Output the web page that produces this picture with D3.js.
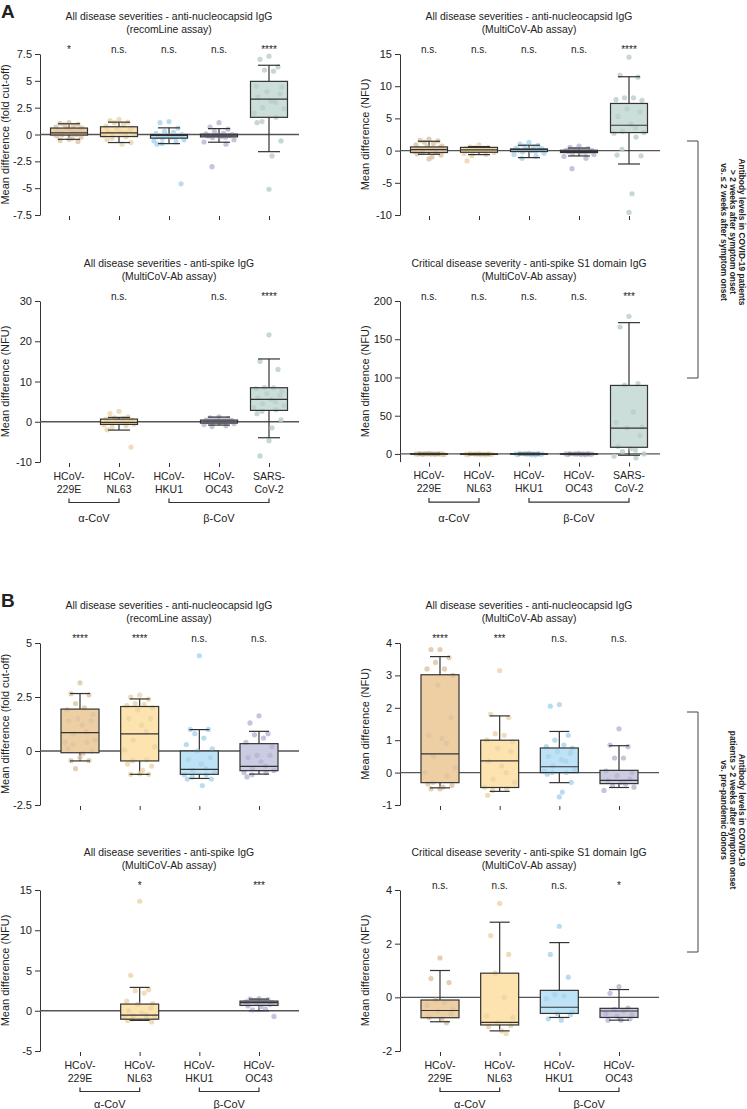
<!DOCTYPE html>
<html><head><meta charset="utf-8">
<script src="https://cdn.jsdelivr.net/npm/d3@7"></script>
<style>
body{margin:0;background:#fff;}
svg text{font-family:"Liberation Sans",Arial,Helvetica,sans-serif;fill:#222;}
</style>
</head><body>
<svg id="chart" width="747" height="1109"></svg>
<script>
// ---------- categories ----------
const cats5 = ["229E","NL63","HKU1","OC43","SARS2"];
const cats4 = ["229E","NL63","HKU1","OC43"];
const catLine1 = {"229E":"HCoV-","NL63":"HCoV-","HKU1":"HCoV-","OC43":"HCoV-","SARS2":"SARS-"};
const catLine2 = {"229E":"229E","NL63":"NL63","HKU1":"HKU1","OC43":"OC43","SARS2":"CoV-2"};
const groupLabels = ["α-CoV","β-CoV"];

// ---------- titles ----------
const titleN_recom = ["All disease severities - anti-nucleocapsid IgG","(recomLine assay)"];
const titleN_multi = ["All disease severities - anti-nucleocapsid IgG","(MultiCoV-Ab assay)"];
const titleS_multi = ["All disease severities - anti-spike IgG","(MultiCoV-Ab assay)"];
const titleS1_crit = ["Critical disease severity - anti-spike S1 domain IgG","(MultiCoV-Ab assay)"];
const ylabFold = "Mean difference (fold cut-off)";
const ylabNFU = "Mean difference (NFU)";
const sideTextA = ["Antibody levels in COVID-19 patients","> 2 weeks after symptom onset","vs. ≤ 2 weeks after symptom onset"];
const sideTextB = ["Antibody levels in COVID-19","patients > 2 weeks after symptom onset","vs. pre-pandemic donors"];

// ---------- tick values ----------
const a1Ticks = [-7.5,-5,-2.5,0,2.5,5,7.5];
const a2Ticks = [-10,-5,0,5,10,15];
const a3Ticks = [-10,0,10,20,30];
const a4Ticks = [0,50,100,150,200];
const b1Ticks = [-2.5,0,2.5,5];
const b2Ticks = [-1,0,1,2,3,4];
const b3Ticks = [-5,0,5,10,15];
const b4Ticks = [-2,0,2,4];

// ---------- significance ----------
const a1Sig = ["*","n.s.","n.s.","n.s.","****"];
const a2Sig = ["n.s.","n.s.","n.s.","n.s.","****"];
const a3Sig = ["","n.s.","","n.s.","****"];
const a4Sig = ["n.s.","n.s.","n.s.","n.s.","***"];
const b1Sig = ["****","****","n.s.","n.s."];
const b2Sig = ["****","***","n.s.","n.s."];
const b3Sig = ["","*","","***"];
const b4Sig = ["n.s.","n.s.","n.s.","*"];

// ---------- box stats [whiskerLow, q1, median, q3, whiskerHigh] ----------
const a1Box = [[-0.45,-0.05,0.15,0.6,1.0],[-0.75,-0.19,0.15,0.72,1.15],[-0.85,-0.34,-0.08,0.0,0.62],[-0.72,-0.22,-0.06,0.03,0.55],[-1.6,1.6,3.3,4.95,6.45]];
const a2Box = [[-0.57,-0.3,0.15,0.57,1.45],[-0.62,-0.26,0.1,0.5,0.62],[-1.09,-0.15,0.15,0.26,0.83],[-0.83,-0.3,-0.15,0.05,0.4],[-2.08,2.8,3.94,7.32,11.47]];
const a3Box = [null,[-2.07,-0.66,-0.17,0.66,1.08],null,[-0.83,-0.33,0,0.41,1.16],[-3.97,2.82,5.55,8.45,15.6]];
const a4Box = [[-0.8,-0.3,0,0.3,0.8],[-1.0,-0.6,-0.3,0.1,0.6],[-1.0,-0.4,0,0.4,1.0],[-0.8,-0.3,0,0.3,0.8],[-1.7,8.7,33.9,89.6,171.7]];
const b1Box = [[-0.46,-0.08,0.85,1.94,2.66],[-1.08,-0.46,0.79,2.06,2.41],[-1.27,-1.08,-0.85,0,0.99],[-1.07,-0.91,-0.71,0.34,0.91]];
const b2Box = [[-0.47,-0.31,0.58,3.02,3.58],[-0.58,-0.46,0.36,1.0,1.75],[-0.31,0,0.18,0.76,1.27],[-0.46,-0.34,-0.24,0.07,0.83]];
const b3Box = [null,[-1.2,-1.05,-0.54,0.83,2.9],null,[0,0.66,1.0,1.2,1.45]];
const b4Box = [[-0.91,-0.76,-0.49,-0.1,1.0],[-1.25,-1.03,-0.93,0.9,2.8],[-0.75,-0.6,-0.37,0.26,2.04],[-0.85,-0.75,-0.51,-0.41,0.29]];

// ---------- individual points ----------
const a1Points = [
 [1.1,1.05,0.95,0.9,0.8,0.7,0.6,0.55,0.45,0.35,0.3,0.2,0.15,0.1,0.05,0,-0.05,-0.15,-0.25,-0.35,-0.45,-0.55,-0.65],
 [1.4,1.3,1.15,1.1,0.9,0.75,0.6,0.5,0.4,0.3,0.2,0.15,0.05,0,-0.1,-0.2,-0.35,-0.5,-0.75,-0.9],
 [1.2,1.1,0.6,0.3,0.2,0.1,0,-0.05,-0.1,-0.2,-0.25,-0.3,-0.35,-0.5,-0.6,-0.7,-0.85,-0.9,-4.6],
 [1.1,0.7,0.5,0.3,0.1,0.05,0,-0.05,-0.1,-0.15,-0.2,-0.25,-0.3,-0.5,-0.7,-0.9,-3.0],
 [7.3,7.0,6.3,6.0,5.9,4.5,4.4,4.0,3.8,3.5,3.1,3.0,2.5,2.4,2.0,1.6,1.2,1.1,-0.6,-2.0,-5.1]];
const a2Points = [
 [1.8,1.6,1.5,1.3,1.1,0.9,0.7,0.6,0.5,0.4,0.3,0.2,0.1,0,-0.1,-0.2,-0.3,-0.5,-0.7,-1.0,-1.3],
 [0.9,0.6,0.5,0.45,0.4,0.3,0.2,0.15,0.1,0,-0.05,-0.1,-0.2,-0.3,-0.45,-0.6,-0.8,-1.6],
 [1.3,1.0,0.8,0.7,0.5,0.4,0.3,0.2,0.15,0.1,0,-0.1,-0.2,-0.4,-0.6,-0.9,-1.2],
 [0.7,0.5,0.3,0.2,0.1,0.05,0,-0.05,-0.1,-0.15,-0.2,-0.3,-0.4,-0.6,-0.9,-1.2,-2.8],
 [14.5,11.7,11.4,8.2,8.2,7.9,7.8,6.5,6.0,5.3,4.1,3.5,3.0,2.8,2.7,2.1,0.2,-0.7,-0.8,-6.7,-9.6]];
const a3Points = [
 [],
 [2.6,2.0,1.2,1.0,0.8,0.6,0.4,0.2,0,-0.1,-0.2,-0.3,-0.5,-0.6,-0.8,-1.0,-1.5,-2.0,-6.3],
 [],
 [1.2,1.0,0.8,0.6,0.5,0.4,0.3,0.2,0.1,0,-0.1,-0.2,-0.3,-0.5,-0.7,-1.0,-1.2],
 [21.6,15.0,13.0,8.5,8.4,8.2,7.5,7.0,6.5,6.0,5.5,5.0,4.5,4.0,3.5,3.0,2.6,2.0,0.5,-1.5,-4.7,-8.5]];
const a4Points = [
 [0.8,0.6,0.4,0.3,0.2,0.1,0,0,-0.1,-0.2,-0.3,-0.5,-0.7,-0.8],
 [0.6,0.3,0.1,0,-0.2,-0.3,-0.4,-0.5,-0.6,-0.8,-1.0,-1.4],
 [1.2,0.9,0.5,0.3,0.1,0,-0.1,-0.3,-0.5,-0.8,-1.0,-1.5],
 [0.8,0.5,0.3,0.1,0,0,-0.1,-0.2,-0.4,-0.6,-0.8,-1.2],
 [180,166,92,90,55,41,35,34,24,10,7,5,3,0,-3,-5]];
const b1Points = [
 [3.16,2.65,2.6,2.2,2.0,1.9,1.7,1.5,1.4,1.4,1.2,0.9,0.8,0.5,0.4,0.4,0.3,0.1,0,-0.1,-0.3,-0.45,-0.45,-0.82],
 [2.59,2.5,2.4,2.2,2.15,2.1,2.0,1.9,1.5,1.5,1.2,0.9,0.5,0.2,0.05,-0.4,-0.45,-0.6,-0.7,-0.9,-1.05,-1.08,-1.08],
 [4.41,1.0,1.0,0.8,0.6,0.3,0.1,0,-0.3,-0.4,-0.6,-0.8,-0.9,-1.0,-1.1,-1.1,-1.2,-1.3,-1.3,-1.6],
 [1.63,1.3,0.8,0.75,0.6,0.4,0.2,-0.2,-0.2,-0.3,-0.5,-0.7,-0.8,-0.9,-1.0,-1.0,-1.1,-1.2]];
const b2Points = [
 [3.8,3.8,3.55,3.4,3.2,3.2,3.0,2.7,1.7,1.15,1.05,0.9,0.5,0.15,0.0,-0.1,-0.3,-0.35,-0.4,-0.45,-0.5,-0.5],
 [3.15,1.8,1.7,1.2,1.15,1.0,0.95,0.75,0.65,0.35,0.2,0,-0.2,-0.3,-0.45,-0.5,-0.55,-0.7],
 [2.1,2.05,1.15,1.0,0.85,0.8,0.75,0.65,0.6,0.5,0.4,0.35,0.2,0.1,0.05,0,0,-0.05,-0.3,-0.6,-0.75],
 [1.35,0.85,0.8,0.45,0.45,0.05,0,-0.1,-0.2,-0.25,-0.3,-0.35,-0.4,-0.45,-0.55]];
const b3Points = [
 [],
 [13.6,4.4,2.6,2.5,2.2,1.2,0.9,0.8,0.3,0,-0.3,-0.5,-0.6,-0.7,-0.8,-0.9,-1.0,-1.2,-1.4],
 [],
 [1.5,1.45,1.4,1.3,1.2,1.1,1.0,0.9,0.8,0.6,0.5,0.2,0.1,-0.7]];
const b4Points = [
 [1.47,0.7,0.55,-0.1,-0.2,-0.3,-0.45,-0.5,-0.6,-0.75,-0.8,-0.95],
 [3.5,2.3,1.6,0.9,0,-0.7,-0.75,-0.95,-1.05,-1.1,-1.25,-1.35],
 [2.65,1.6,0.75,0.1,0.05,-0.05,-0.55,-0.6,-0.65,-0.8,-0.85],
 [0.4,0.15,-0.4,-0.45,-0.5,-0.6,-0.65,-0.7,-0.8,-0.85,-0.85]];

// ---------- styles ----------
const boxFill = {"229E":"#EECFA4","NL63":"#FDE3AE","HKU1":"#BEE3F6","OC43":"#CBCBE2","SARS2":"#CBDEDA"};
const dotFill = {"229E":"#DCC3A0","NL63":"#EBD3A6","HKU1":"#A9D3EC","OC43":"#B5B5D3","SARS2":"#B9CDC9"};
const jit = [0,-9,9,-4.5,4.5,-13,13,-2,11,-11,2,6.5,-6.5,15,-15,7,-7,-12,12,3];

const panels = [
 {x0:40, c0:29,c1:229, yTop:54, yBot:215, dom:[-7.5,7.5], ticks:a1Ticks, cats:cats5, box:a1Box, pts:a1Points, sig:a1Sig, title:titleN_recom, ylab:ylabFold, xEnd:299, bottom:false, bw:37, cw:22},
 {x0:400,c0:29,c1:229, yTop:54, yBot:215, dom:[-10,15], ticks:a2Ticks, cats:cats5, box:a2Box, pts:a2Points, sig:a2Sig, title:titleN_multi, ylab:ylabNFU, xEnd:660, bottom:false, bw:37, cw:22},
 {x0:40, c0:29,c1:229, yTop:301, yBot:462, dom:[-10,30], ticks:a3Ticks, cats:cats5, box:a3Box, pts:a3Points, sig:a3Sig, title:titleS_multi, ylab:ylabNFU, xEnd:299, bottom:true, bw:37, cw:22},
 {x0:400,c0:29,c1:229, yTop:301, yBot:461.6, dom:[-10,200], ticks:a4Ticks, cats:cats5, box:a4Box, pts:a4Points, sig:a4Sig, title:titleS1_crit, ylab:ylabNFU, xEnd:660, bottom:true, bw:37, cw:22},
 {x0:40, c0:40,c1:219, yTop:643, yBot:805, dom:[-2.5,5], ticks:b1Ticks, cats:cats4, box:b1Box, pts:b1Points, sig:b1Sig, title:titleN_recom, ylab:ylabFold, xEnd:299, bottom:false, bw:38, cw:20},
 {x0:400,c0:40,c1:219, yTop:643, yBot:805, dom:[-1,4], ticks:b2Ticks, cats:cats4, box:b2Box, pts:b2Points, sig:b2Sig, title:titleN_multi, ylab:ylabNFU, xEnd:659, bottom:false, bw:38, cw:20},
 {x0:40, c0:40,c1:219, yTop:890, yBot:1051, dom:[-5,15], ticks:b3Ticks, cats:cats4, box:b3Box, pts:b3Points, sig:b3Sig, title:titleS_multi, ylab:ylabNFU, xEnd:299, bottom:true, bw:38, cw:20},
 {x0:400,c0:40,c1:219, yTop:890, yBot:1051, dom:[-2,4], ticks:b4Ticks, cats:cats4, box:b4Box, pts:b4Points, sig:b4Sig, title:titleS1_crit, ylab:ylabNFU, xEnd:659, bottom:true, bw:38, cw:20}
];

const svg = d3.select("#chart");
const ink = "#333";

function drawPanel(p){
  const g = svg.append("g");
  const y = d3.scaleLinear().domain(p.dom).range([p.yBot, p.yTop]);
  const x = d3.scalePoint().domain(p.cats).range([p.x0 + p.c0, p.x0 + p.c1]);

  // title
  const t = g.append("text").attr("text-anchor","middle").style("font-size","10.4px");
  p.title.forEach((s,i)=> t.append("tspan").attr("x", p.x0 + 129).attr("y", p.yTop - 34 + i*12.5).text(s));

  // y axis
  const ya = g.append("g").attr("transform",`translate(${p.x0},0)`)
    .call(d3.axisLeft(y).tickValues(p.ticks).tickFormat(d=>String(d)).tickSize(5).tickSizeOuter(0).tickPadding(3));
  ya.selectAll("path,line").attr("stroke",ink).attr("stroke-width",1);
  ya.selectAll("text").style("font-size","11px").attr("fill","#222");

  // y label
  g.append("text").attr("transform",`translate(${p.x0 < 100 ? 9 : 369},${(p.yTop+p.yBot)/2}) rotate(-90)`)
    .attr("text-anchor","middle").style("font-size","11px").text(p.ylab);

  // x ticks
  const xa = g.append("g").attr("transform",`translate(0,${p.yBot+1})`)
    .call(d3.axisBottom(x).tickSize(4).tickFormat(""));
  xa.select(".domain").remove();
  xa.selectAll("line").attr("stroke",ink).attr("stroke-width",1);

  // zero line
  g.append("line").attr("x1",p.x0).attr("x2",p.xEnd).attr("y1",y(0)).attr("y2",y(0))
    .attr("stroke","#555").attr("stroke-width",1.3);

  // boxes
  p.cats.forEach((c,i)=>{
    const b = p.box[i];
    const xc = x(c);
    if(b){
      const [wl,q1,md,q3,wh] = b;
      g.append("line").attr("x1",xc).attr("x2",xc).attr("y1",y(wl)).attr("y2",y(wh)).attr("stroke",ink).attr("stroke-width",1.2);
      g.append("rect").attr("x",xc-p.bw/2).attr("width",p.bw).attr("y",y(q3)).attr("height",Math.max(0.5,y(q1)-y(q3)))
        .attr("fill",boxFill[c]);
    }
    const pts = p.pts[i];
    g.selectAll(null).data(pts).enter().append("circle")
      .attr("cx",(d,k)=> xc + jit[k % jit.length])
      .attr("cy",d=>y(d)).attr("r",2.6)
      .attr("fill",dotFill[c]).attr("fill-opacity",0.8);
    if(b){
      const [wl,q1,md,q3,wh] = b;
      g.append("rect").attr("x",xc-p.bw/2).attr("width",p.bw).attr("y",y(q3)).attr("height",Math.max(0.5,y(q1)-y(q3)))
        .attr("fill","none").attr("stroke",ink).attr("stroke-width",1.2);
      g.append("line").attr("x1",xc-p.bw/2).attr("x2",xc+p.bw/2).attr("y1",y(md)).attr("y2",y(md)).attr("stroke",ink).attr("stroke-width",1.2);
      [wl,wh].forEach(v=> g.append("line").attr("x1",xc-p.cw/2).attr("x2",xc+p.cw/2).attr("y1",y(v)).attr("y2",y(v)).attr("stroke",ink).attr("stroke-width",1.2));
    }
    // significance
    g.append("text").attr("x",xc).attr("y",p.yTop-1).attr("text-anchor","middle").style("font-size","10px").text(p.sig[i]);
    // category labels
    if(p.bottom){
      const tl = g.append("text").attr("text-anchor","middle").style("font-size","10.5px");
      tl.append("tspan").attr("x",xc).attr("y",p.yBot+17.5).text(catLine1[c]);
      tl.append("tspan").attr("x",xc).attr("y",p.yBot+30.5).text(catLine2[c]);
    }
  });

  if(p.bottom){
    const yb = p.yBot + 40.5;
    const groups = [[p.cats[0],p.cats[1]],[p.cats[2],p.cats[p.cats.length-1]]];
    groups.forEach((gr,k)=>{
      const x1 = x(gr[0]), x2 = x(gr[1]);
      g.append("path").attr("d",`M${x1},${yb-4}V${yb}H${x2}V${yb-4}`).attr("fill","none").attr("stroke",ink).attr("stroke-width",1.2);
      g.append("text").attr("x",(x1+x2)/2).attr("y",p.yBot + (p.yBot>900?57:60)).attr("text-anchor","middle").style("font-size","11px").text(groupLabels[k]);
    });
  }
}
panels.forEach(drawPanel);

// panel letters
svg.append("text").attr("x",1).attr("y",18).style("font-size","19px").style("font-weight","bold").text("A");
svg.append("text").attr("x",1).attr("y",607).style("font-size","19px").style("font-weight","bold").text("B");

// side brackets
function sideBracket(y1,y2,lines,cy){
  svg.append("path").attr("d",`M687,${y1}H698V${y2}H687`).attr("fill","none").attr("stroke","#444").attr("stroke-width",1);
  lines.forEach((s,i)=>{
    svg.append("text").attr("transform",`translate(${739 - i*9},${cy}) rotate(90)`)
      .attr("text-anchor","middle").style("font-size","8.4px").style("font-weight","bold").text(s);
  });
}
sideBracket(141,378,sideTextA,232);
sideBracket(712,952,sideTextB,810);
</script>
</body></html>
